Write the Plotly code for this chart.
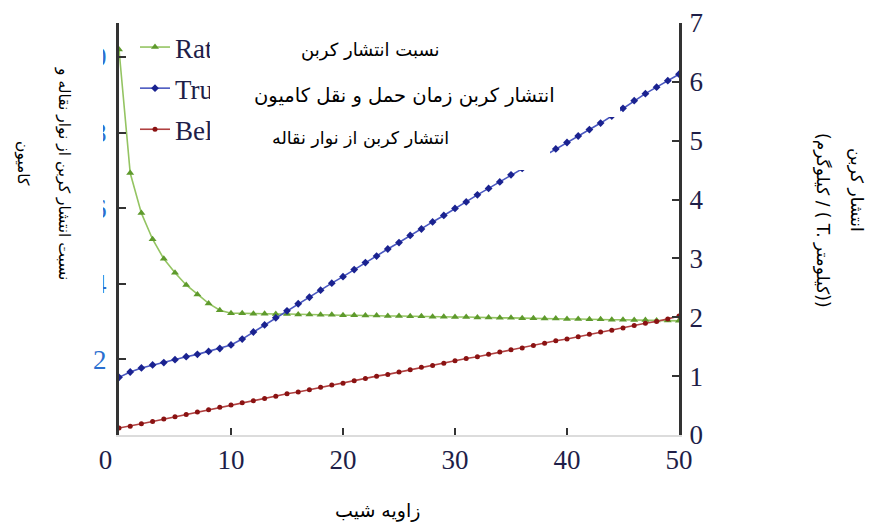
import plotly.graph_objects as go

# ---------------- data ----------------
slope_angle = list(range(0, 51))

ratio = [10.2, 6.93, 5.87, 5.18, 4.66, 4.29, 3.97, 3.72, 3.48, 3.30,
         3.22, 3.22, 3.21, 3.21, 3.20, 3.20, 3.19, 3.19, 3.18, 3.18,
         3.17, 3.17, 3.16, 3.16, 3.15, 3.15, 3.14, 3.14, 3.13, 3.13,
         3.12, 3.12, 3.11, 3.11, 3.10, 3.10, 3.09, 3.09, 3.08, 3.08,
         3.07, 3.07, 3.06, 3.06, 3.05, 3.05, 3.04, 3.04, 3.03, 3.03, 3.02]

truck = [0.98, 1.07, 1.14, 1.19, 1.23, 1.28, 1.33, 1.37, 1.42, 1.47,
         1.53, 1.63, 1.75, 1.87, 1.99, 2.11, 2.23, 2.34, 2.46, 2.58,
         2.69, 2.81, 2.93, 3.04, 3.16, 3.27, 3.39, 3.50, 3.62, 3.73,
         3.85, 3.96, 4.08, 4.19, 4.30, 4.42, 4.53, 4.64, 4.75, 4.86,
         4.97, 5.08, 5.19, 5.30, 5.42, 5.55, 5.68, 5.80, 5.91, 6.02, 6.13]

belt = [0.12, 0.15, 0.19, 0.23, 0.27, 0.31, 0.35, 0.39, 0.43, 0.47,
        0.51, 0.55, 0.58, 0.62, 0.66, 0.70, 0.73, 0.77, 0.81, 0.85,
        0.88, 0.92, 0.96, 1.00, 1.03, 1.07, 1.11, 1.15, 1.18, 1.22,
        1.26, 1.30, 1.33, 1.37, 1.41, 1.45, 1.48, 1.52, 1.56, 1.60,
        1.63, 1.67, 1.71, 1.75, 1.78, 1.82, 1.86, 1.90, 1.93, 1.97, 2.02]

series_names = ["Ratio", "Truck", "Belt"]
persian_labels = ["نسبت انتشار کربن",
                  "انتشار کربن زمان حمل و نقل کامیون",
                  "انتشار کربن از نوار نقاله"]
x_title = "زاویه شیب"
left_title = ["نسبت انتشار کربن از نوار نقاله و", "کامیون"]
right_title = ["انتشار کربن", "(کیلوگرم / ( T. کیلومتر))"]

x_ticks = [0, 10, 20, 30, 40, 50]
x_ticktext = ["0\u00a0\u00a0\u00a0\u00a0", "10", "20", "30", "40", "50"]
left_ticks = [2, 4, 6, 8, 10]
right_ticks = [0, 1, 2, 3, 4, 5, 6, 7]

# ---------------- geometry helpers (screen pixels) ----------------
W, H = 875, 525
OFF = 8                      # default page body margin
L, R, T, B = 119, 679, 23, 435   # plot area on screen


def px(xs):
    return (xs - L) / (R - L)


def py(ys):
    return (B - ys) / (B - T)


SERIF = "Liberation Serif, Times New Roman, serif"
FA = "DejaVu Sans, sans-serif"
TICKCOL = "#1e1e48"

fig = go.Figure()
fig.add_trace(go.Scatter(
    x=slope_angle, y=ratio, name=series_names[0], legendgroup="a",
    mode="lines+markers",
    line=dict(color="#94c462", width=1.6),
    marker=dict(symbol="triangle-up", size=7, color="#5e9a2c"),
    yaxis="y"))
fig.add_trace(go.Scatter(
    x=slope_angle, y=truck, name=series_names[1], legendgroup="b",
    mode="lines+markers",
    line=dict(color="#4a58c0", width=1.6),
    marker=dict(symbol="diamond", size=6, color="#1a2290"),
    yaxis="y2"))
fig.add_trace(go.Scatter(
    x=slope_angle, y=belt, name=series_names[2], legendgroup="c",
    mode="lines+markers",
    line=dict(color="#b04040", width=1.6),
    marker=dict(symbol="circle", size=5, color="#8a1212"),
    yaxis="y2"))

# white covers (mimic the pasted label boxes)
ann = []
for (x0, y0, w, h) in [(210, 10, 350, 58), (210, 68, 410, 49), (210, 117, 340, 53)]:
    ann.append(dict(x=px(x0), y=py(y0), xref="paper", yref="paper",
                    xanchor="left", yanchor="top", text=" ", showarrow=False,
                    width=w, height=h, bgcolor="white", borderpad=0, borderwidth=0))

for lab, (cx, cy), fs in zip(persian_labels, [(370, 50), (404, 95), (360, 138)],
                             [18, 19.5, 17.5]):
    ann.append(dict(x=px(cx), y=py(cy), xref="paper", yref="paper",
                    xanchor="center", yanchor="middle", text=lab, showarrow=False,
                    font=dict(family=FA, size=fs, color="black")))

ann.append(dict(x=px(377), y=py(510), xref="paper", yref="paper",
                xanchor="center", yanchor="middle", text=x_title, showarrow=False,
                font=dict(family=FA, size=19, color="black")))

for lab, (cx, cy) in zip(left_title, [(63, 173), (23, 163)]):
    ann.append(dict(x=px(cx), y=py(cy), xref="paper", yref="paper",
                    xanchor="center", yanchor="middle", text=lab, showarrow=False,
                    textangle=90, font=dict(family=FA, size=15.5, color="black")))

for lab, (cx, cy) in zip(right_title, [(857, 190), (823, 220)]):
    ann.append(dict(x=px(cx), y=py(cy), xref="paper", yref="paper",
                    xanchor="center", yanchor="middle", text=lab, showarrow=False,
                    textangle=90, font=dict(family=FA, size=17, color="black")))

fig.update_layout(
    width=W, height=H, autosize=False,
    margin=dict(l=L - OFF, r=W - (R - OFF), t=T - OFF, b=H - (B - OFF), pad=0,
                autoexpand=False),
    paper_bgcolor="white", plot_bgcolor="white",
    showlegend=True,
    legend=dict(x=px(135), y=py(23), xanchor="left", yanchor="top",
                bgcolor="rgba(0,0,0,0)", tracegroupgap=3,
                font=dict(family=SERIF, size=27, color=TICKCOL)),
    xaxis=dict(range=[0, 50], tickvals=x_ticks, ticktext=x_ticktext,
               ticks="inside", ticklen=7,
               tickwidth=2, tickcolor="#333333", showline=True,
               linecolor="#dcdcdc", linewidth=2, showgrid=False, zeroline=False,
               ticklabeloverflow="allow",
               tickfont=dict(family=SERIF, size=27, color=TICKCOL)),
    yaxis=dict(range=[0, 10.9], tickvals=left_ticks, ticks="inside", ticklen=7,
               tickwidth=2, tickcolor="#333333", showline=True,
               linecolor="#333333", linewidth=3, showgrid=False, zeroline=False,
               ticklabelstandoff=4, ticklabeloverflow="allow",
               tickfont=dict(family=SERIF, size=27, color="#2a6fd0")),
    yaxis2=dict(range=[0, 7], tickvals=right_ticks, ticks="inside", ticklen=7,
                tickwidth=2, tickcolor="#333333", showline=True,
                linecolor="#333333", linewidth=3, showgrid=False, zeroline=False,
                overlaying="y", side="right", ticklabelstandoff=2,
                ticklabeloverflow="allow",
                tickfont=dict(family=SERIF, size=27, color=TICKCOL)),
    shapes=[dict(type="rect", xref="paper", yref="paper", layer="above",
                 x0=px(0), x1=px(103), y0=py(335), y1=py(-10),
                 fillcolor="white", line=dict(width=0))],
    annotations=ann,
)

fig.write_html("out.html")
